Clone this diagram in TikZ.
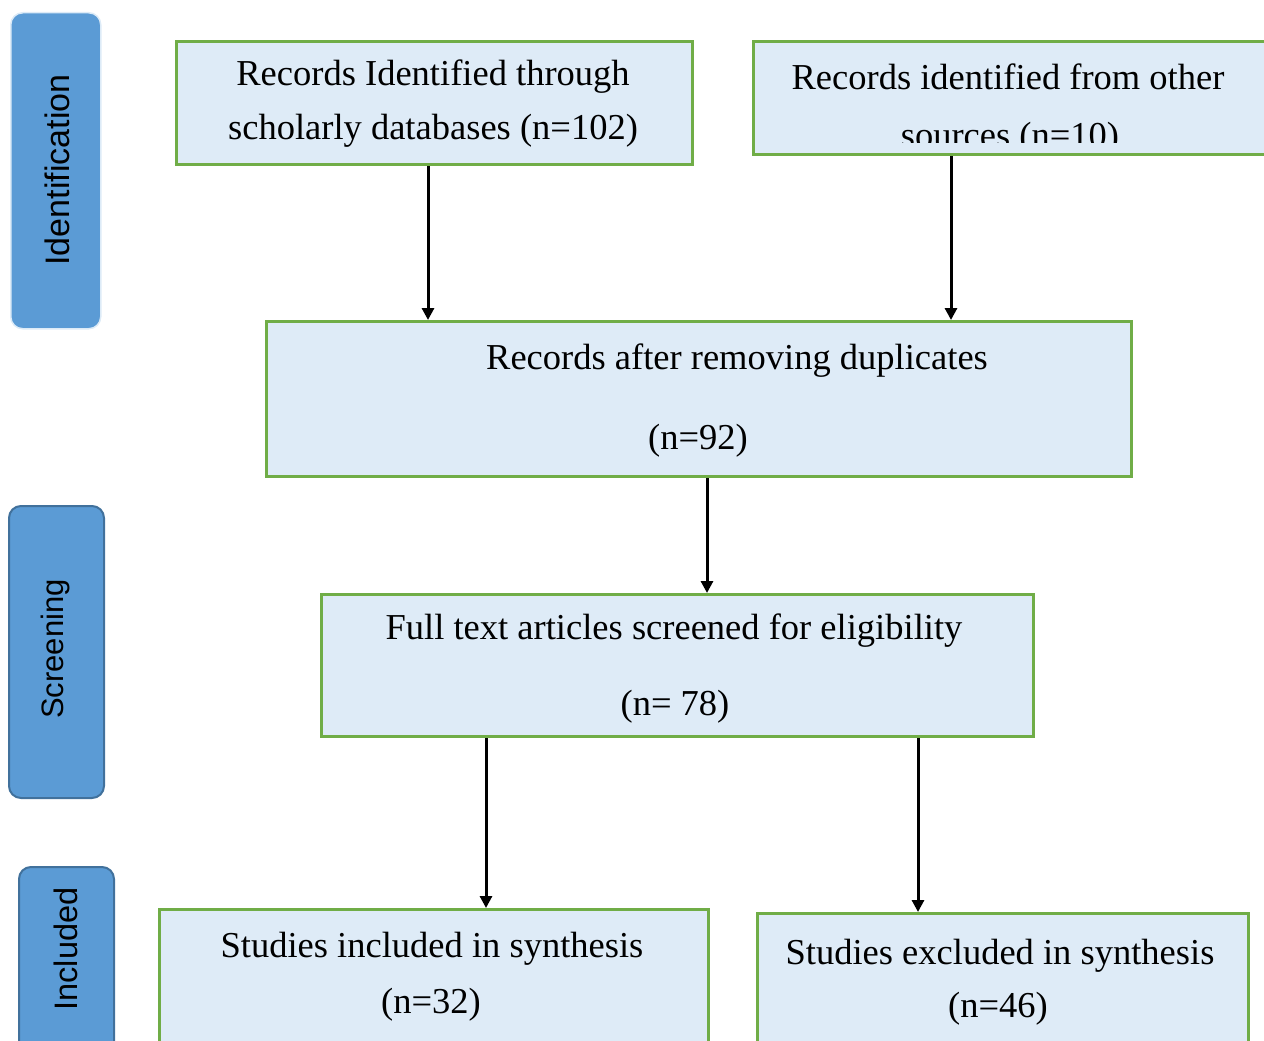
\documentclass[tikz,border=0pt]{standalone}
\usepackage{fontspec}
\setmainfont{Liberation Serif}
\setsansfont{Liberation Sans}
\usetikzlibrary{arrows.meta}
\definecolor{bar}{HTML}{5B9BD5}
\definecolor{barline}{HTML}{41719C}
\definecolor{barhalo}{HTML}{DDEBF7}
\definecolor{boxfill}{HTML}{DEEBF7}
\definecolor{boxline}{HTML}{70AD47}
\begin{document}
\begin{tikzpicture}[x=1pt,y=-1pt,
  stage/.style={fill=bar, draw=barline, line width=2pt, rounded corners=12pt, anchor=north west, inner sep=0pt},
  box/.style={fill=boxfill, draw=boxline, line width=3pt, anchor=north west, inner sep=0pt},
  lbl/.style={font=\fontsize{36.5}{42}\selectfont, anchor=base, inner sep=0pt},
  stg/.style={font=\sffamily\fontsize{31}{36}\selectfont, rotate=90, inner sep=0pt},
  arr/.style={line width=3pt, -{Triangle[length=12pt,width=12pt]}}]
\useasboundingbox (0,0) rectangle (1264,1041);
\clip (0,0) rectangle (1264,1041);

% stage bars
\node[stage, draw=barhalo, line width=1.5pt, minimum width=90pt, minimum height=316pt] (s1) at (10,12) {};
\node[stage, minimum width=95pt, minimum height=292pt] (s2) at (8,505) {};
\node[stage, minimum width=95pt, minimum height=220pt] (s3) at (18,866) {};
\node[stg, font=\sffamily\fontsize{34}{38}\selectfont] (t1) at (57,170) {Identification};
\node[stg] (t2) at (55,649) {Screening};
\node[stg, font=\sffamily\fontsize{32.5}{38}\selectfont] (t3) at (66,949) {Included};

% boxes
\node[box, minimum width=516pt, minimum height=123pt] (b1) at (175,40) {};
\node[box, minimum width=525pt, minimum height=113pt] (b2) at (752,40) {};
\node[box, minimum width=865pt, minimum height=155pt] (b3) at (265,320) {};
\node[box, minimum width=712pt, minimum height=142pt] (b4) at (320,593) {};
\node[box, minimum width=549pt, minimum height=160pt] (b5) at (158,908) {};
\node[box, minimum width=491pt, minimum height=156pt] (b6) at (756,912) {};

% texts
\node[lbl] (l1a) at (433,85) {Records Identified through};
\node[lbl] (l1b) at (433,139) {scholarly databases (n=102)};
\node[lbl] (l2a) at (1008,89) {Records identified from other};
\begin{scope}
\clip (752,40) rectangle (1270,142);
\node[lbl] (l2b) at (1010,147) {sources (n=10)};
\end{scope}
\node[lbl] (l3a) at (737,369) {Records after removing duplicates};
\node[lbl] (l3b) at (698,449) {(n=92)};
\node[lbl] (l4a) at (674,639) {Full text articles screened for eligibility};
\node[lbl] (l4b) at (675,715) {(n= 78)};
\node[lbl] (l5a) at (432,957) {Studies included in synthesis};
\node[lbl] (l5b) at (431,1013) {(n=32)};
\node[lbl] (l6a) at (1000,964) {Studies excluded in synthesis};
\node[lbl] (l6b) at (998,1017) {(n=46)};

% connectors
\coordinate (c1) at (428,0);
\coordinate (c2) at (951,0);
\coordinate (c3) at (707,0);
\coordinate (c4) at (486,0);
\coordinate (c5) at (918,0);
\draw[arr] (b1.south -| c1) -- (b3.north -| c1);
\draw[arr] (b2.south -| c2) -- (b3.north -| c2);
\draw[arr] (b3.south -| c3) -- (b4.north -| c3);
\draw[arr] (b4.south -| c4) -- (b5.north -| c4);
\draw[arr] (b4.south -| c5) -- (b6.north -| c5);
\end{tikzpicture}
\end{document}
